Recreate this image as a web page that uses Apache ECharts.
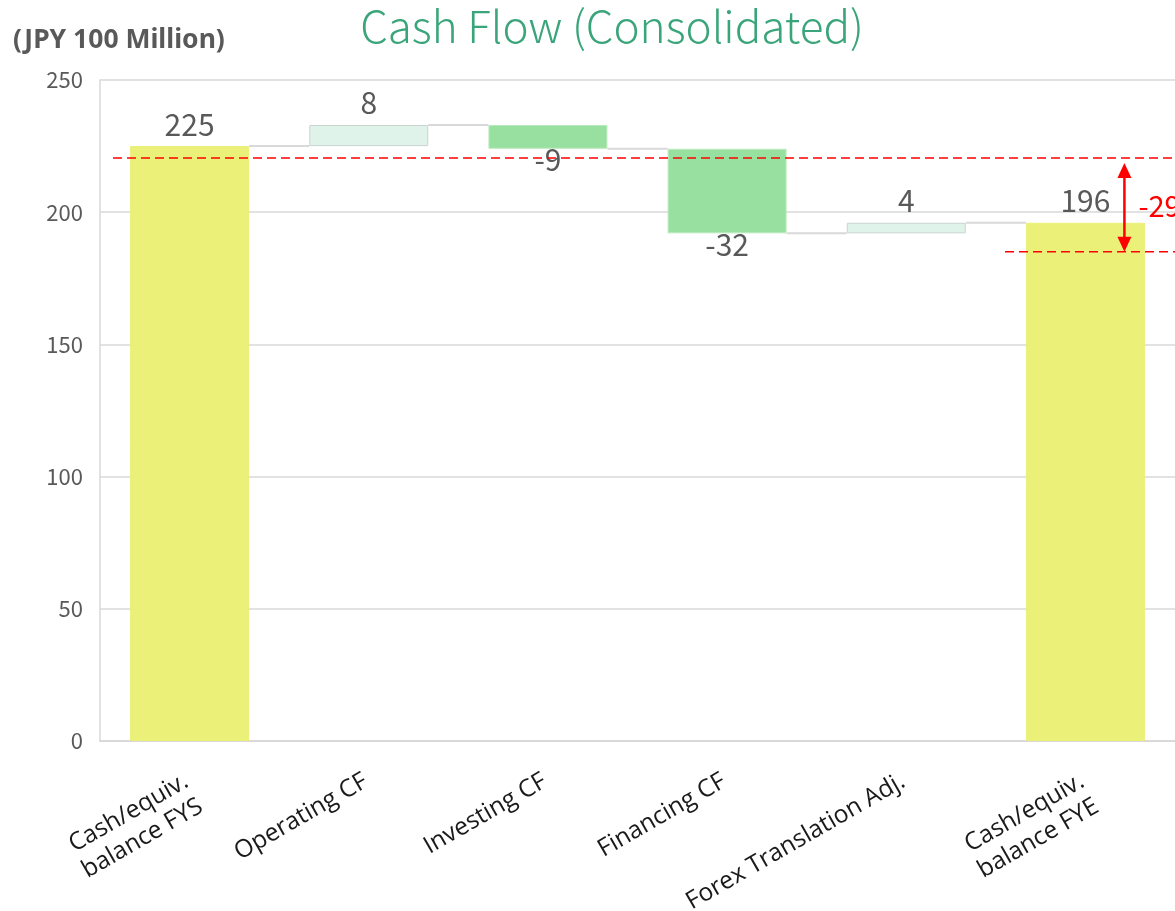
<!DOCTYPE html>
<html lang="en">
<head>
	<meta charset="UTF-8">
	<title>Cash Flow</title>
	<style type="text/css">
		html, body{ margin: 0; padding: 0; background: #fff; }
		#a{ width: 1175px; height: 911px; }
	</style>
</head>
<body>
	<div id="a"></div>
	<script type="text/javascript" src="https://cdn.jsdelivr.net/npm/echarts@6/dist/echarts.min.js"></script>
	<script type="text/javascript">
		// data
		var categories = ['Cash/equiv.\nbalance FYS', 'Operating CF', 'Investing CF', 'Financing CF', 'Forex Translation Adj.', 'Cash/equiv.\nbalance FYE'];
		var amounts = [225, 8, -9, -32, 4, 196];
		var isTotal = [true, false, false, false, false, true];
		var yTicks = [0, 50, 100, 150, 200, 250];
		// red annotation: start level, end level, label
		var refLevels = [220.5, 185];
		var diffLabel = '-29';

		// waterfall: transparent base + visible part
		var base = [], height = [], levels = [];
		var running = 0;
		for (var i = 0; i < amounts.length; i++) {
			if (isTotal[i]) {
				base.push(0);
				height.push(amounts[i]);
				running = amounts[i];
			} else {
				var end = running + amounts[i];
				base.push(Math.min(running, end));
				height.push(Math.abs(amounts[i]));
				running = end;
			}
			levels.push(running);
		}
		var connectors = [];
		for (var i = 0; i < levels.length - 1; i++) {
			connectors.push([i, levels[i]]);
		}

		var GAP = 0.336;
		var myChart = echarts.init(document.getElementById('a'));

		var visible = height.map(function (v, i) {
			var color, border, neg = !isTotal[i] && amounts[i] < 0;
			if (isTotal[i]) { color = '#ebf078'; border = '#ebf078'; }
			else if (amounts[i] >= 0) { color = '#dff3ea'; border = '#c9d4cf'; }
			else { color = '#98e09f'; border = '#b9eabd'; }
			return {
				value: v,
				itemStyle: { color: color, borderColor: border, borderWidth: 1 },
				label: { position: neg ? 'bottom' : 'top', distance: neg ? -4 : 7 }
			};
		});

		var option = {
			animation: false,
			title: [
				{
					text: 'Cash Flow (Consolidated)',
					left: 607,
					textAlign: 'center',
					top: -1,
					textStyle: { color: '#3aa57a', fontSize: 44, fontWeight: 300, fontFamily: 'Noto Sans CJK JP' }
				},
				{
					text: '(JPY 100 Million)',
					left: 8,
					top: 22,
					textStyle: { color: '#595959', fontSize: 26.5, fontWeight: 'bold', fontFamily: 'Noto Sans' }
				}
			],
			grid: { left: 100, right: 0, top: 80, bottom: 170, outerBoundsMode: 'none', containLabel: false },
			xAxis: {
				type: 'category',
				data: categories,
				axisTick: { show: false },
				axisLine: { lineStyle: { color: '#d9d9d9', width: 2 } },
				axisLabel: {
					interval: 0,
					rotate: 30,
					margin: 20,
					verticalAlign: 'top',
					padding: [0, 12, 0, 0],
					fontSize: 24.5,
					color: '#1a1a1a',
					fontFamily: 'Open Sans',
					lineHeight: 29
				}
			},
			yAxis: {
				type: 'value',
				min: yTicks[0],
				max: yTicks[yTicks.length - 1],
				interval: 50,
				axisLine: { show: true, lineStyle: { color: '#d9d9d9', width: 1.5 } },
				axisTick: { show: false },
				splitLine: { lineStyle: { color: '#d9d9d9', width: 1.5 } },
				axisLabel: { fontSize: 22, color: '#595959', margin: 17, fontFamily: 'Noto Sans CJK JP' }
			},
			series: [
				{
					name: 'base',
					type: 'bar',
					stack: 'wf',
					data: base,
					barCategoryGap: (GAP * 100) + '%',
					itemStyle: { color: 'transparent' },
					silent: true
				},
				{
					name: 'value',
					type: 'bar',
					stack: 'wf',
					data: visible,
					label: {
						show: true,
						fontSize: 30,
						color: '#595959',
						fontFamily: 'Noto Sans CJK JP',
						formatter: function (p) { return amounts[p.dataIndex]; }
					}
				},
				{
					name: 'connector',
					type: 'custom',
					data: connectors,
					z: 5,
					renderItem: function (params, api) {
						var p = api.coord([api.value(0), api.value(1)]);
						var band = api.size([1, 0])[0];
						var bw = band * (1 - GAP);
						return {
							type: 'line',
							shape: { x1: p[0] + bw / 2, y1: p[1], x2: p[0] + band - bw / 2, y2: p[1] },
							style: { stroke: '#d9d9d9', lineWidth: 2 }
						};
					}
				}
			]
		};
		myChart.setOption(option);

		// red annotation: dashed levels, double arrow, difference label
		var yTop = myChart.convertToPixel({ yAxisIndex: 0 }, refLevels[0]);
		var yBot = myChart.convertToPixel({ yAxisIndex: 0 }, refLevels[1]);
		var xArrow = myChart.convertToPixel({ xAxisIndex: 0 }, 5) + 39;
		var red = '#ff0000';
		myChart.setOption({
			graphic: [
				{ type: 'line', shape: { x1: 113, y1: yTop, x2: 1175, y2: yTop }, style: { stroke: red, lineWidth: 1.5, lineDash: [9, 5] }, z: 20 },
				{ type: 'line', shape: { x1: 1005, y1: yBot, x2: 1175, y2: yBot }, style: { stroke: red, lineWidth: 1.5, lineDash: [9, 5] }, z: 20 },
				{ type: 'line', shape: { x1: xArrow, y1: yTop + 16, x2: xArrow, y2: yBot - 14 }, style: { stroke: red, lineWidth: 2.5 }, z: 20 },
				{ type: 'polygon', shape: { points: [[xArrow, yTop + 5], [xArrow - 7, yTop + 20], [xArrow + 7, yTop + 20]] }, style: { fill: red }, z: 20 },
				{ type: 'polygon', shape: { points: [[xArrow, yBot], [xArrow - 7, yBot - 15], [xArrow + 7, yBot - 15]] }, style: { fill: red }, z: 20 },
				{ type: 'text', x: xArrow + 14, y: (yTop + yBot) / 2 + 1, style: { text: diffLabel, fill: red, fontSize: 29, fontFamily: 'Noto Sans CJK JP', verticalAlign: 'middle' }, z: 20 }
			]
		});
	</script>
</body>
</html>
